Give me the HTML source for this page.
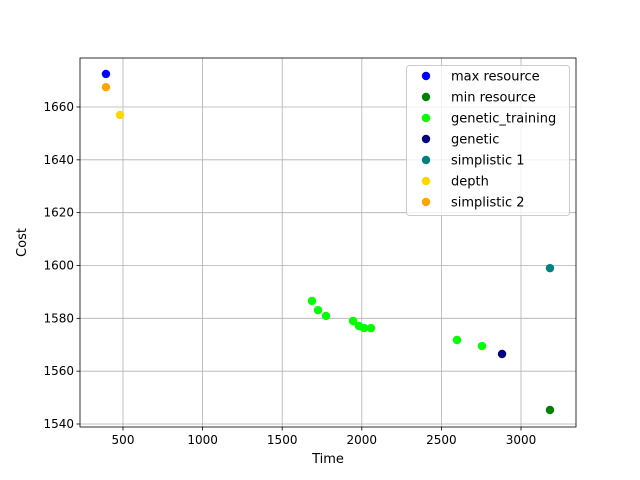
<!DOCTYPE html>
<html><head><meta charset="utf-8"><style>body{margin:0;background:#fff}svg{display:block;font-family:"DejaVu Sans","Liberation Sans",sans-serif}</style></head>
<body>
<svg id="chart" width="640" height="480"></svg>
<script>
const xTicks=[500,1000,1500,2000,2500,3000];
const yTicks=[1540,1560,1580,1600,1620,1640,1660];
const seriesNames=["max resource","min resource","genetic_training","genetic","simplistic 1","depth","simplistic 2"];
const seriesColors=["#0000ff","#008000","#00ff00","#000080","#008080","#ffd700","#ffa500"];
const maxResourceX=[393],maxResourceY=[1672.5];
const minResourceX=[3182],minResourceY=[1545.3];
const geneticTrainingX=[1687,1725,1775,1945,1982,2014,2058,2598,2755];
const geneticTrainingY=[1586.6,1583.1,1580.9,1579,1577.1,1576.3,1576.3,1571.8,1569.5];
const geneticX=[2881],geneticY=[1566.5];
const simplistic1X=[3182],simplistic1Y=[1599];
const depthX=[481],depthY=[1657];
const simplistic2X=[393],simplistic2Y=[1667.5];

const L=80,R=576,T=58,B=427;
const sx=v=>123+(v-500)*(398/2500);
const sy=v=>424-(v-1540)*(317/120);
const svg=document.getElementById('chart');
const NS='http://www.w3.org/2000/svg';
function mk(tag,attrs,parent){const e=document.createElementNS(NS,tag);for(const k in attrs)e.setAttribute(k,attrs[k]);(parent||svg).appendChild(e);return e;}

xTicks.forEach(t=>{const x=sx(t);
const g=mk('line',{x1:x,x2:x,y1:T,y2:B,stroke:'#b0b0b0','stroke-width':0.8});


mk('line',{x1:x,x2:x,y1:B,y2:B+3.5,stroke:'#000','stroke-width':0.8});
const tx=mk('text',{x:x,y:B+17,'text-anchor':'middle','font-size':12});tx.textContent=t;

});
yTicks.forEach(t=>{const y=sy(t);
const g=mk('line',{x1:L,x2:R,y1:y,y2:y,stroke:'#b0b0b0','stroke-width':0.8});


mk('line',{x1:L-3.5,x2:L,y1:y,y2:y,stroke:'#000','stroke-width':0.8});
const tx=mk('text',{x:L-6,y:y+4,'text-anchor':'end','font-size':12});tx.textContent=t;

});
const fr=mk('rect',{x:L,y:T,width:R-L,height:B-T,fill:'none',stroke:'#000','stroke-width':0.8});



const seriesX=[maxResourceX,minResourceX,geneticTrainingX,geneticX,simplistic1X,depthX,simplistic2X];
const seriesY=[maxResourceY,minResourceY,geneticTrainingY,geneticY,simplistic1Y,depthY,simplistic2Y];
seriesX.forEach((xs,i)=>xs.forEach((v,j)=>{
const c=mk('circle',{cx:sx(v),cy:sy(seriesY[i][j]),r:4.2,fill:seriesColors[i]});

}));

const xl=mk('text',{x:(L+R)/2,y:463,'text-anchor':'middle','font-size':13});xl.textContent='Time';


const yl=mk('text',{x:0,y:0,'text-anchor':'middle','font-size':13,transform:'translate(26,'+((T+B)/2)+') rotate(-90)'});yl.textContent='Cost';



const lg=mk('g',{});


mk('rect',{x:406.5,y:65.5,width:163,height:150,rx:3,fill:'#fff','fill-opacity':0.8,stroke:'#ccc'},lg);
seriesNames.forEach((n,i)=>{const y=76+i*21;
const c=mk('circle',{cx:426,cy:y,r:4.2,fill:seriesColors[i]},lg);


const t=mk('text',{x:451,y:y+4.5,'font-size':13},lg);t.textContent=n;

});
</script>
</body></html>
